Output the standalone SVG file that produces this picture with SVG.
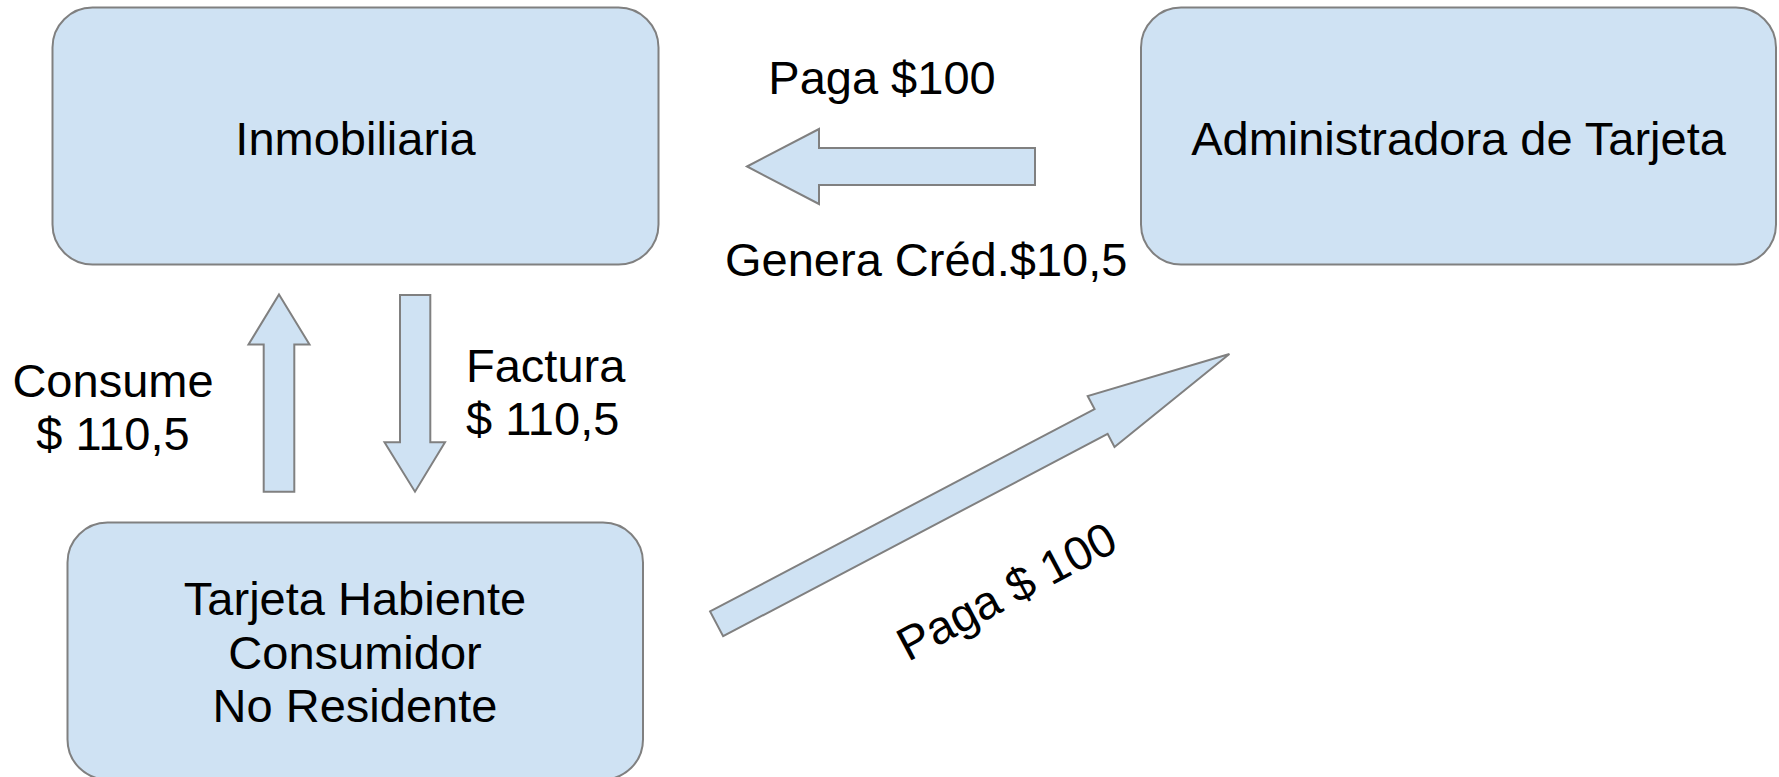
<svg xmlns="http://www.w3.org/2000/svg" width="1779" height="777" viewBox="0 0 1779 777">
  <style>
    .box { fill: #cfe2f3; stroke: #808080; stroke-width: 2; }
    .arrow { fill: #cfe2f3; stroke: #808080; stroke-width: 2; stroke-linejoin: miter; }
    text { font-family: "Liberation Sans", Arial, sans-serif; font-size: 47px; fill: #000000; }
    .mid { text-anchor: middle; }
  </style>
  <rect width="1779" height="777" fill="#ffffff"/>

  <!-- nodes -->
  <g id="inmobiliaria">
    <rect class="box" x="52.5" y="7.5" width="606" height="257" rx="40" ry="40"/>
    <text class="mid" x="355.5" y="154.5">Inmobiliaria</text>
  </g>
  <g id="administradora">
    <rect class="box" x="1141" y="7.5" width="635" height="257" rx="40" ry="40"/>
    <text class="mid" x="1458.5" y="155">Administradora de Tarjeta</text>
  </g>
  <g id="tarjeta-habiente">
    <rect class="box" x="67.5" y="522.5" width="575.5" height="257" rx="40" ry="40"/>
    <text class="mid" x="355" y="615">Tarjeta Habiente</text>
    <text class="mid" x="355" y="668.5">Consumidor</text>
    <text class="mid" x="355" y="722">No Residente</text>
  </g>

  <!-- connectors: block arrows with their labels -->
  <g id="connectors">
    <!-- Administradora pays Inmobiliaria -->
    <polygon class="arrow" points="747,166.5 819,129 819,148 1035,148 1035,185 819,185 819,204"/>
    <text class="mid" x="882" y="94">Paga $100</text>
    <text x="725" y="276">Genera Créd.$10,5</text>

    <!-- consumer to Inmobiliaria -->
    <polygon class="arrow" points="279,294.5 309.5,344.5 294.3,344.5 294.3,491.7 263.7,491.7 263.7,344.5 248.5,344.5"/>
    <text class="mid" x="113" y="397">Consume</text>
    <text class="mid" x="113" y="450">$ 110,5</text>

    <!-- Inmobiliaria invoices consumer -->
    <polygon class="arrow" points="400,295 430.3,295 430.3,442.3 445,442.3 415,491.7 384.5,442.3 400,442.3"/>
    <text x="466" y="382">Factura</text>
    <text x="466" y="435">$ 110,5</text>

    <!-- consumer pays Administradora -->
    <polygon class="arrow" transform="translate(716.6,623.85) rotate(-27.76)"
             points="0,-14 434.5,-14 434.5,-28.8 579.5,0 434.5,28.8 434.5,14 0,14"/>
    <text transform="translate(908,662) rotate(-28)">Paga $ 100</text>
  </g>
</svg>
